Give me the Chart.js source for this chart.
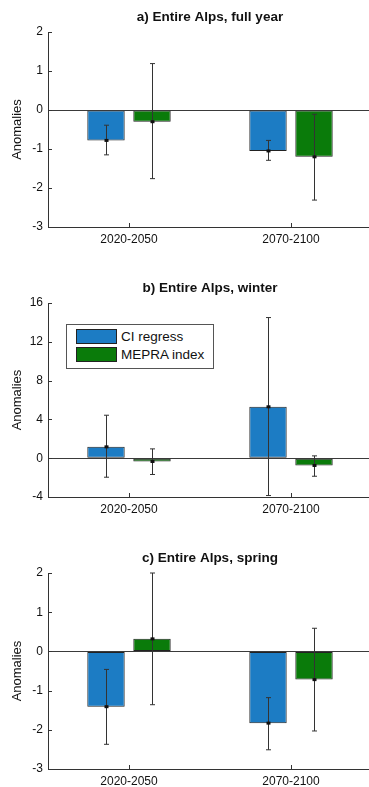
<!DOCTYPE html>
<html>
<head>
<meta charset="utf-8">
<script src="https://cdn.jsdelivr.net/npm/chart.js@4.4.1/dist/chart.umd.min.js"></script>
<style>
  html, body { margin: 0; padding: 0; background: #fff; overflow: hidden; }
  body { width: 369px; height: 787px; position: relative; font-family: "Liberation Sans", Arial, sans-serif; }
  .panel { position: absolute; left: 0; width: 372px; height: 260px; }
  .panel canvas { width: 372px; height: 260px; }
  #legend { position: absolute; left: 66px; top: 324px; width: 146px; height: 43px; border: 1px solid #555; background: #fff; }
  .entry { position: absolute; left: 9px; height: 15px; }
  .swatch { position: absolute; left: 0; top: 0; width: 39px; height: 13px; border: 1px solid #222; }
  .entry span { position: absolute; left: 45px; top: 0; font-size: 13.5px; line-height: 15px; color: #111; white-space: nowrap; }
</style>
</head>
<body>
<div class="panel" style="top:0px"><canvas id="fullYear" width="372" height="260"></canvas></div>
<div class="panel" style="top:271px"><canvas id="winter" width="372" height="260"></canvas></div>
<div class="panel" style="top:541px"><canvas id="spring" width="372" height="260"></canvas></div>
<div id="legend"></div>
<script>
'use strict';

const FONT = '"Liberation Sans", Arial, sans-serif';

const categories = ['2020-2050', '2070-2100'];
const seriesNames = ['CI regress', 'MEPRA index'];
const seriesColors = ['#1c7cc4', '#0a7b0a'];

// a) full year
const fullYearTicks = [-3, -2, -1, 0, 1, 2];
const fullYearCI = [-0.78, -1.05];
const fullYearCILow = [-1.15, -1.29];
const fullYearCIHigh = [-0.39, -0.78];
const fullYearMepra = [-0.30, -1.20];
const fullYearMepraLow = [-1.76, -2.31];
const fullYearMepraHigh = [1.19, -0.11];

// b) winter
const winterTicks = [-4, 0, 4, 8, 12, 16];
const winterCI = [1.17, 5.3];
const winterCILow = [-1.96, -3.85];
const winterCIHigh = [4.43, 14.5];
const winterMepra = [-0.34, -0.75];
const winterMepraLow = [-1.68, -1.86];
const winterMepraHigh = [0.96, 0.24];

// c) spring
const springTicks = [-3, -2, -1, 0, 1, 2];
const springCI = [-1.41, -1.83];
const springCILow = [-2.37, -2.51];
const springCIHigh = [-0.46, -1.18];
const springMepra = [0.32, -0.72];
const springMepraLow = [-1.36, -2.03];
const springMepraHigh = [2.0, 0.59];

// baseline at zero across the axes
const zeroLine = {
    id: 'zeroLine',
    afterDatasetsDraw(chart) {
        const { ctx, chartArea, scales: { y } } = chart;
        const py = Math.round(y.getPixelForValue(0)) + 0.5;
        ctx.save();
        ctx.strokeStyle = '#3a3a3a';
        ctx.lineWidth = 1;
        ctx.beginPath();
        ctx.moveTo(chartArea.left, py);
        ctx.lineTo(chartArea.right, py);
        ctx.stroke();
        ctx.restore();
    }
};

// vertical range bars with caps and a dot at the bar value
const errorBars = {
    id: 'errorBars',
    afterDatasetsDraw(chart) {
        const { ctx, scales: { y } } = chart;
        ctx.save();
        chart.data.datasets.forEach((ds, i) => {
            chart.getDatasetMeta(i).data.forEach((bar, j) => {
                const x = Math.round(bar.x) + 0.5;
                const top = y.getPixelForValue(ds.errHigh[j]);
                const bottom = y.getPixelForValue(ds.errLow[j]);
                ctx.strokeStyle = '#333';
                ctx.lineWidth = 1;
                ctx.beginPath();
                ctx.moveTo(x, top);
                ctx.lineTo(x, bottom);
                ctx.moveTo(x - 2.5, top);
                ctx.lineTo(x + 2.5, top);
                ctx.moveTo(x - 2.5, bottom);
                ctx.lineTo(x + 2.5, bottom);
                ctx.stroke();
                ctx.fillStyle = '#111';
                ctx.fillRect(x - 2, bar.y - 1.5, 4, 3);
            });
        });
        ctx.restore();
    }
};

// short tick marks pointing into the plot
const inwardTicks = {
    id: 'inwardTicks',
    afterDraw(chart) {
        const { ctx, chartArea, scales: { x, y } } = chart;
        ctx.save();
        ctx.strokeStyle = '#333';
        ctx.lineWidth = 1;
        ctx.beginPath();
        y.ticks.forEach(t => {
            const py = Math.round(y.getPixelForValue(t.value)) + 0.5;
            ctx.moveTo(chartArea.left, py);
            ctx.lineTo(chartArea.left + 4, py);
        });
        x.ticks.forEach((t, i) => {
            const px = Math.round(x.getPixelForTick(i)) + 0.5;
            ctx.moveTo(px, chartArea.bottom);
            ctx.lineTo(px, chartArea.bottom - 4);
        });
        ctx.stroke();
        ctx.restore();
    }
};

function makePanel(id, title, ticks, ci, ciLow, ciHigh, mepra, mepraLow, mepraHigh, plotBottom) {
    const values = [ci, mepra];
    const lows = [ciLow, mepraLow];
    const highs = [ciHigh, mepraHigh];
    return new Chart(document.getElementById(id).getContext('2d'), {
        type: 'bar',
        data: {
            labels: categories,
            datasets: seriesNames.map((name, i) => ({
                label: name,
                data: values[i],
                errLow: lows[i],
                errHigh: highs[i],
                backgroundColor: seriesColors[i],
                borderColor: '#222',
                borderWidth: 1,
                borderSkipped: false,
                categoryPercentage: 0.568,
                barPercentage: 0.813
            }))
        },
        options: {
            responsive: false,
            animation: false,
            events: [],
            layout: { padding: 0 },
            plugins: {
                legend: { display: false },
                tooltip: { enabled: false },
                title: {
                    display: true,
                    text: title,
                    fullSize: false,
                    color: '#111',
                    font: { family: FONT, size: 13.5, weight: 'bold' },
                    padding: { top: 9.5, bottom: 6.3 }
                }
            },
            scales: {
                x: {
                    grid: { drawOnChartArea: false, drawTicks: false },
                    border: { color: '#333' },
                    ticks: { color: '#111', font: { family: FONT, size: 12 }, padding: 5 },
                    afterFit(scale) { scale.height = 260 - plotBottom; }
                },
                y: {
                    min: ticks[0],
                    max: ticks[ticks.length - 1],
                    grid: { drawOnChartArea: false, drawTicks: false },
                    border: { color: '#333' },
                    ticks: { stepSize: ticks[1] - ticks[0], color: '#111', font: { family: FONT, size: 12 }, padding: 5 },
                    title: {
                        display: true,
                        text: 'Anomalies',
                        color: '#111',
                        font: { family: FONT, size: 13 },
                        padding: { top: 10, bottom: 0 }
                    },
                    afterFit(scale) { scale.width = 48; }
                }
            }
        },
        plugins: [zeroLine, errorBars, inwardTicks]
    });
}

makePanel('fullYear', 'a) Entire Alps, full year', fullYearTicks,
    fullYearCI, fullYearCILow, fullYearCIHigh, fullYearMepra, fullYearMepraLow, fullYearMepraHigh, 227);
makePanel('winter', 'b) Entire Alps, winter', winterTicks,
    winterCI, winterCILow, winterCIHigh, winterMepra, winterMepraLow, winterMepraHigh, 226);
makePanel('spring', 'c) Entire Alps, spring', springTicks,
    springCI, springCILow, springCIHigh, springMepra, springMepraLow, springMepraHigh, 228);

// legend box for the winter panel
const legend = document.getElementById('legend');
seriesNames.forEach((name, i) => {
    const entry = document.createElement('div');
    entry.className = 'entry';
    entry.style.top = (4 + i * 18) + 'px';
    const swatch = document.createElement('div');
    swatch.className = 'swatch';
    swatch.style.background = seriesColors[i];
    const label = document.createElement('span');
    label.textContent = name;
    entry.appendChild(swatch);
    entry.appendChild(label);
    legend.appendChild(entry);
});
</script>
</body>
</html>
